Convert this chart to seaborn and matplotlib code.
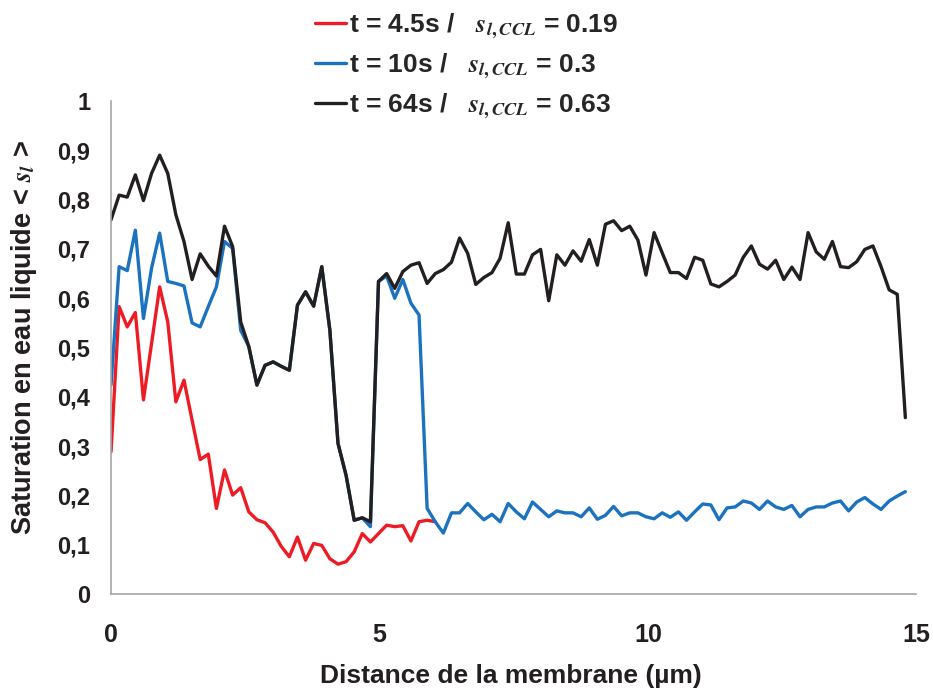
"""
Profil de saturation en eau liquide dans la CCL
a trois instants (4.5s, 10s, 64s).
"""

import numpy as np
import pandas as pd
import matplotlib
import matplotlib.pyplot as plt
import seaborn as sns

matplotlib.use("Agg")

# pas de la grille en distance (µm)
STEP = 0.151

SAT_45S = [
    0.289, 0.583, 0.542, 0.571, 0.394, 0.508, 0.623, 0.552, 0.390, 0.434,
    0.353, 0.273, 0.284, 0.174, 0.252, 0.201, 0.216, 0.167, 0.151, 0.145,
    0.126, 0.097, 0.076, 0.116, 0.069, 0.103, 0.099, 0.072, 0.061, 0.066,
    0.086, 0.123, 0.106, 0.123, 0.140, 0.137, 0.139, 0.108, 0.147, 0.150,
    0.147,
]

SAT_10S = [
    0.424, 0.664, 0.656, 0.738, 0.559, 0.661, 0.732, 0.634, 0.630, 0.625,
    0.550, 0.542, 0.583, 0.623, 0.715, 0.701, 0.535, 0.502, 0.424, 0.464,
    0.471, 0.462, 0.454, 0.586, 0.613, 0.584, 0.664, 0.535, 0.306, 0.241,
    0.150, 0.155, 0.137, 0.634, 0.645, 0.600, 0.638, 0.590, 0.566, 0.174,
    0.147, 0.124, 0.165, 0.165, 0.184, 0.167, 0.151, 0.162, 0.147, 0.184,
    0.167, 0.153, 0.187, 0.172, 0.157, 0.169, 0.165, 0.165, 0.157, 0.175,
    0.152, 0.160, 0.178, 0.159, 0.165, 0.165, 0.157, 0.153, 0.165, 0.156,
    0.167, 0.150, 0.167, 0.183, 0.181, 0.151, 0.175, 0.177, 0.189, 0.185,
    0.172, 0.189, 0.177, 0.172, 0.180, 0.157, 0.172, 0.177, 0.177, 0.185,
    0.189, 0.169, 0.187, 0.196, 0.183, 0.172, 0.189, 0.199, 0.208,
]

SAT_64S = [
    0.759, 0.809, 0.805, 0.850, 0.798, 0.853, 0.890, 0.853, 0.769, 0.715,
    0.638, 0.690, 0.665, 0.645, 0.746, 0.705, 0.552, 0.502, 0.424, 0.464,
    0.471, 0.462, 0.454, 0.586, 0.613, 0.584, 0.664, 0.535, 0.306, 0.241,
    0.150, 0.155, 0.147, 0.634, 0.650, 0.620, 0.654, 0.667, 0.672, 0.630,
    0.650, 0.658, 0.673, 0.722, 0.691, 0.628, 0.642, 0.652, 0.681, 0.753,
    0.649, 0.649, 0.688, 0.699, 0.595, 0.688, 0.667, 0.696, 0.675, 0.719,
    0.667, 0.750, 0.757, 0.737, 0.746, 0.718, 0.647, 0.733, 0.692, 0.652,
    0.652, 0.640, 0.683, 0.677, 0.629, 0.623, 0.634, 0.647, 0.683, 0.706,
    0.669, 0.659, 0.677, 0.638, 0.663, 0.638, 0.733, 0.694, 0.679, 0.715,
    0.664, 0.662, 0.674, 0.699, 0.706, 0.664, 0.617, 0.608, 0.358,
]

LABELS = [
    r"t = 4.5s /   $s_{l,CCL}$ = 0.19",
    r"t = 10s /   $s_{l,CCL}$ = 0.3",
    r"t = 64s /   $s_{l,CCL}$ = 0.63",
]
COLORS = ["#ED1C24", "#1B72BE", "#231F20"]

X_TICKS = [0, 5, 10, 15]
Y_TICKS = [0, 0.1, 0.2, 0.3, 0.4, 0.5, 0.6, 0.7, 0.8, 0.9, 1]
Y_TICK_LABELS = ["0", "0,1", "0,2", "0,3", "0,4", "0,5", "0,6", "0,7", "0,8", "0,9", "1"]


def build_frame():
    rows = []
    for label, serie in zip(LABELS, [SAT_45S, SAT_10S, SAT_64S]):
        for i, v in enumerate(serie):
            rows.append({"distance": i * STEP, "saturation": v, "serie": label})
    return pd.DataFrame(rows)


def main():
    sns.set_style("white")
    plt.rcParams["font.family"] = ["Liberation Sans", "DejaVu Sans"]
    plt.rcParams["font.weight"] = "bold"
    plt.rcParams["mathtext.fontset"] = "stix"

    df = build_frame()

    fig = plt.figure(figsize=(9.33, 6.91), dpi=100)
    ax = fig.add_axes([0.119, 0.140, 0.863, 0.714])

    sns.lineplot(data=df, x="distance", y="saturation", hue="serie",
                 hue_order=LABELS, palette=COLORS, estimator=None, sort=False,
                 linewidth=2.4, ax=ax)

    ax.set_xlim(0, 15)
    ax.set_ylim(0, 1)
    ax.set_xticks(X_TICKS)
    ax.set_xticklabels([str(t) for t in X_TICKS])
    ax.set_yticks(Y_TICKS)
    ax.set_yticklabels(Y_TICK_LABELS)

    for side in ["top", "right"]:
        ax.spines[side].set_visible(False)
    for side in ["left", "bottom"]:
        ax.spines[side].set_color("#A6A6A6")
        ax.spines[side].set_linewidth(1.2)

    ax.tick_params(axis="x", direction="out", length=6, width=1, color="#A6A6A6",
                   pad=15, labelsize=18, labelcolor="#231F20")
    ax.tick_params(axis="y", direction="out", length=5, width=1, color="#A6A6A6",
                   pad=10, labelsize=17, labelcolor="#231F20")
    for lab in ax.get_xticklabels() + ax.get_yticklabels():
        lab.set_fontweight("bold")

    ax.set_xlabel("Distance de la membrane (µm)", fontsize=19, fontweight="bold",
                  color="#231F20")
    ax.xaxis.set_label_coords(0.496, -0.142)
    ax.set_ylabel(r"Saturation en eau liquide < $s_l$ >", fontsize=19.5,
                  fontweight="bold", color="#231F20")
    ax.yaxis.set_label_coords(-0.089, 0.52)

    handles, labels = ax.get_legend_handles_labels()
    ax.legend(handles, labels, loc="upper center", bbox_to_anchor=(0.50, 1.018),
              bbox_transform=fig.transFigure, frameon=False,
              prop={"weight": "bold", "size": 19}, handlelength=1.2,
              handletextpad=0.1, labelspacing=0.38)

    fig.savefig("out.png", dpi=100)
    plt.close(fig)


if __name__ == "__main__":
    main()
